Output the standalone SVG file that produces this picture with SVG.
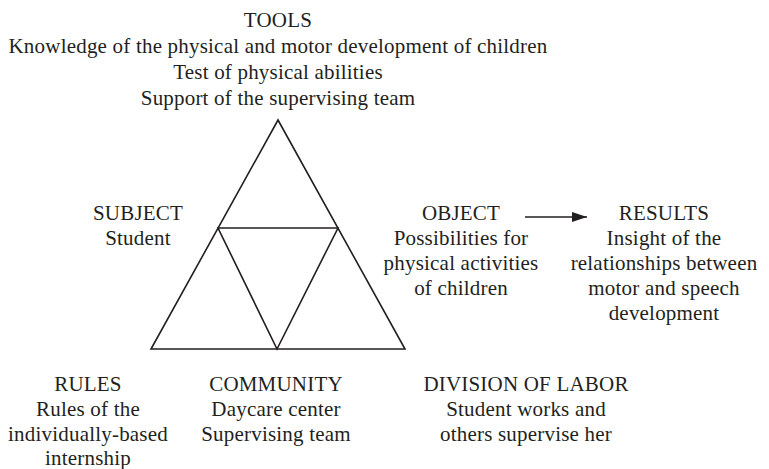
<svg xmlns="http://www.w3.org/2000/svg" width="769" height="469" viewBox="0 0 769 469">
<defs>
<style>
text{font-family:"Liberation Serif","Times New Roman",serif;font-size:21px;letter-spacing:0.2px;fill:#231f20;text-anchor:middle}
.ln{stroke:#231f20;stroke-width:1.6;fill:none;stroke-linejoin:miter}
</style>
<marker id="ah" markerWidth="15" markerHeight="10" refX="15" refY="5" orient="auto" markerUnits="userSpaceOnUse">
<path d="M0,0 L15,5 L0,10 Z" fill="#231f20"/>
</marker>
</defs>
<rect width="769" height="469" fill="#fff"/>
<g id="triangle">
<path class="ln" d="M278,120 L405,349 L151,349 Z"/>
<path class="ln" d="M218,228 L338,228 L277,349 Z"/>
</g>
<g id="tools">
<text x="278" y="27">TOOLS</text>
<text x="278" y="53">Knowledge of the physical and motor development of children</text>
<text x="278" y="79">Test of physical abilities</text>
<text x="278" y="105">Support of the supervising team</text>
</g>
<g id="subject">
<text x="138" y="220">SUBJECT</text>
<text x="138" y="245">Student</text>
</g>
<g id="object">
<text x="461" y="220">OBJECT</text>
<text x="461" y="245">Possibilities for</text>
<text x="461" y="270">physical activities</text>
<text x="461" y="295">of children</text>
</g>
<g id="results">
<text x="664" y="220">RESULTS</text>
<text x="664" y="245">Insight of the</text>
<text x="664" y="270">relationships between</text>
<text x="664" y="295">motor and speech</text>
<text x="664" y="320">development</text>
</g>
<g id="rules">
<text x="88" y="391">RULES</text>
<text x="88" y="416">Rules of the</text>
<text x="88" y="441">individually-based</text>
<text x="88" y="465">internship</text>
</g>
<g id="community">
<text x="276" y="391">COMMUNITY</text>
<text x="276" y="416">Daycare center</text>
<text x="276" y="441">Supervising team</text>
</g>
<g id="division">
<text x="526" y="391">DIVISION OF LABOR</text>
<text x="526" y="416">Student works and</text>
<text x="526" y="441">others supervise her</text>
</g>
<g id="connectors">
<line class="ln" x1="525" y1="217" x2="587" y2="217" marker-end="url(#ah)"/>
</g>
</svg>
